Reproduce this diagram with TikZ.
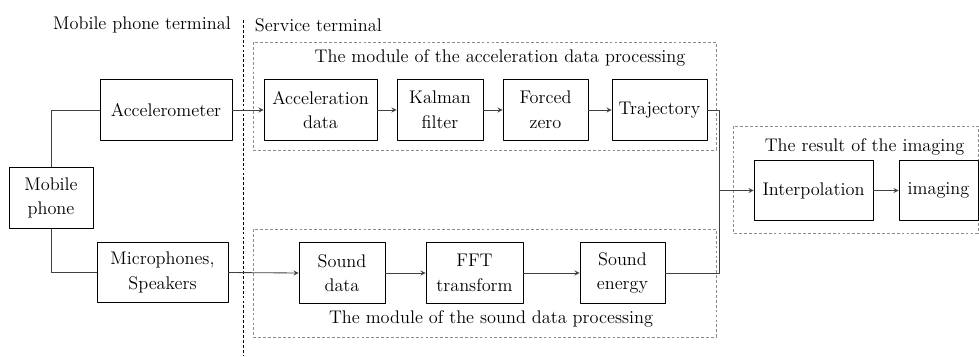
\documentclass[tikz,border=0pt]{standalone}
\tikzset{
	blk/.style={draw, line width=0.6pt, minimum height=1.52cm, align=center, inner sep=1pt},
	grp/.style={draw=black!45, dash pattern=on 2pt off 1.5pt, line width=0.6pt},
	lnk/.style={line width=0.6pt, black!75}
}
\begin{document}
\begin{tikzpicture}[x=0.025cm, y=-0.025cm, font=\fontsize{13}{17.5}\selectfont, line join=round, >=stealth]
	\useasboundingbox (0,0) rectangle (979,356);
	% the two sides
	\node (mterm) at (142,25) {Mobile phone terminal};
	\node[anchor=west] (sterm) at (250,25) {Service terminal};
	\draw[dash pattern=on 2pt off 1.5pt, line width=0.6pt] (243,20)--(243,356);
	% dashed groups
	\draw[grp] (253,42) rectangle (716,150);
	\draw[grp] (253,229) rectangle (716,337);
	\draw[grp] (733,126) rectangle (978,233);
	\node (tacc) at (500,58) {The module of the acceleration data processing};
	\node (tsnd) at (491,319) {The module of the sound data processing};
	\node (tres) at (864.5,147) {The result of the imaging};
	% blocks
	\node[blk, minimum width=2.1cm] (phone) at (51,198) {Mobile\\phone};
	\node[blk, minimum width=3.3cm] (accm) at (166,110) {Accelerometer};
	\node[blk, minimum width=3.275cm] (mic) at (162.5,272.5) {Microphones,\\Speakers};
	\node[blk, minimum width=2.825cm] (adata) at (320.5,110) {Acceleration\\data};
	\node[blk, minimum width=2.15cm] (kal) at (440,110) {Kalman\\filter};
	\node[blk, minimum width=2.125cm] (fzero) at (545.5,110) {Forced\\zero};
	\node[blk, minimum width=2.375cm] (traj) at (659.5,110) {Trajectory};
	\node[blk, minimum width=2.15cm] (sdata) at (342,273) {Sound\\data};
	\node[blk, minimum width=2.425cm] (fft) at (474.5,273) {FFT\\transform};
	\node[blk, minimum width=2.125cm] (seng) at (622.5,273) {Sound\\energy};
	\node[blk, minimum width=2.975cm] (interp) at (813.5,190.5) {Interpolation};
	\node[blk, minimum width=1.975cm] (img) at (938.5,190.5) {imaging};
	% links
	\draw[lnk] (phone.north) |- (accm.west);
	\draw[lnk] (phone.south) |- (mic.west);
	\draw[lnk,->] (accm)--(adata);
	\draw[lnk,->] (adata)--(kal);
	\draw[lnk,->] (kal)--(fzero);
	\draw[lnk,->] (fzero)--(traj);
	\draw[lnk,->] (mic.east)--(sdata.west);
	\draw[lnk,->] (sdata)--(fft);
	\draw[lnk,->] (fft)--(seng);
	\coordinate (join) at (719,190.5);
	\draw[lnk] (traj.east) -| (join) |- (seng.east);
	\draw[lnk,->] (join)--(interp.west);
	\draw[lnk,->] (interp)--(img);
\end{tikzpicture}
\end{document}
